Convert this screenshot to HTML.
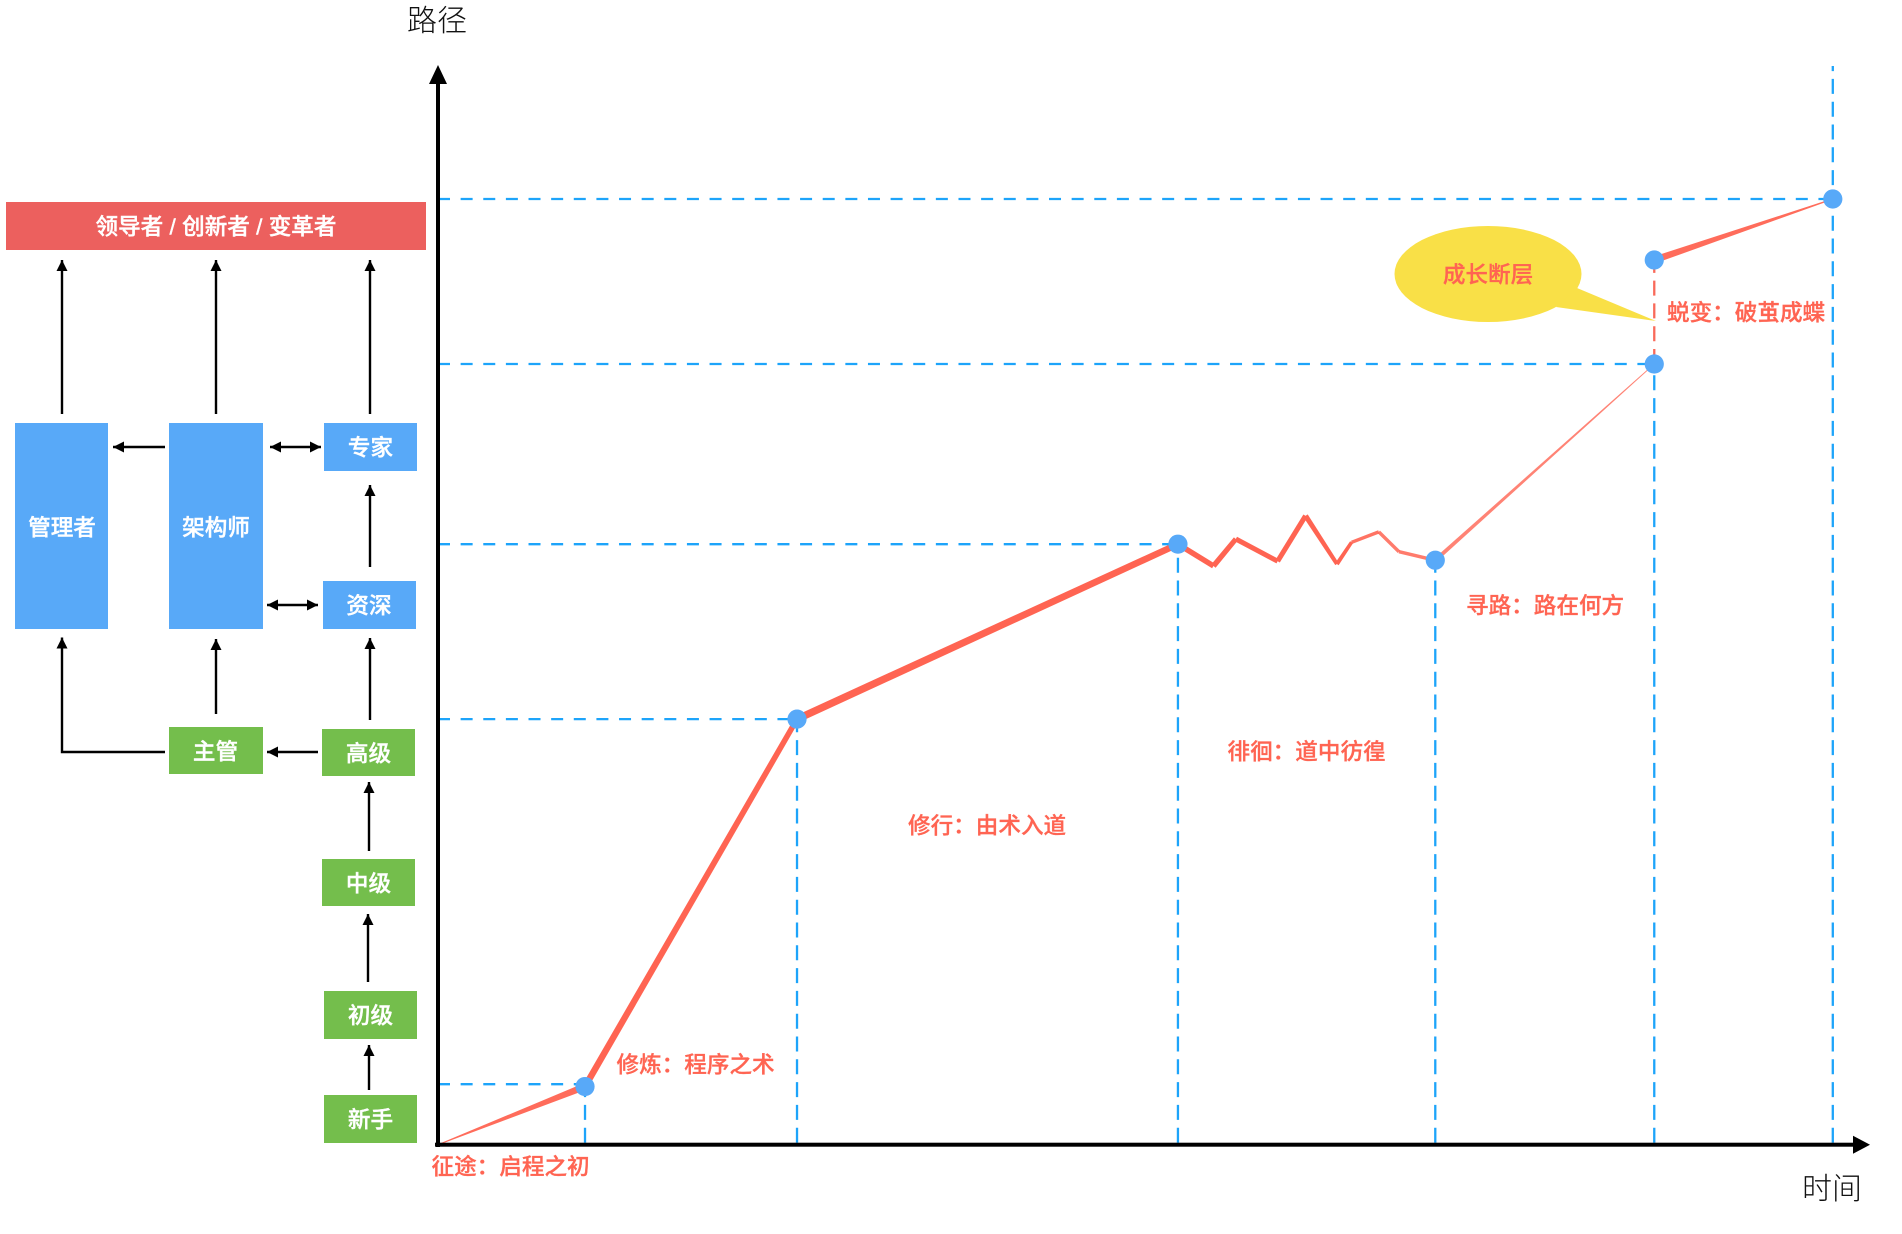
<!DOCTYPE html>
<html lang="zh">
<head>
<meta charset="utf-8">
<title>成长路径</title>
<style>
html,body{margin:0;padding:0;background:#fff;}
body{width:1902px;height:1234px;overflow:hidden;}
svg{display:block;}
text{font-family:"Liberation Sans","Noto Sans CJK SC",sans-serif;}
.box-label{fill:#fff;stroke:#fff;stroke-width:0.4;font-size:22.6px;font-weight:500;text-anchor:middle;dominant-baseline:central;}
.stage{fill:#FF6452;stroke:#FF6452;stroke-width:0.3;font-size:22.6px;font-weight:500;dominant-baseline:central;}
.axis-title{fill:#111;font-size:30px;font-weight:300;text-anchor:middle;dominant-baseline:central;}
.flow{stroke:#000;stroke-width:2.4;fill:none;}
</style>
</head>
<body>
<svg id="chart" xmlns="http://www.w3.org/2000/svg" width="1902" height="1234" viewBox="0 0 1902 1234">
  <defs>
    <marker id="head" viewBox="0 0 11 11" refX="11" refY="5.5" markerWidth="11" markerHeight="11" markerUnits="userSpaceOnUse" orient="auto-start-reverse">
      <path d="M0 0 L11 5.5 L0 11 Z" fill="#000"/>
    </marker>
  </defs>

  <g id="career-flow">
    <rect x="6" y="202" width="420" height="48" fill="#EC605E"/>
    <text class="box-label" x="216" y="227">领导者 / 创新者 / 变革者</text>

    <rect x="15" y="423" width="93" height="206" fill="#58A9F8"/>
    <text class="box-label" x="62" y="528">管理者</text>
    <rect x="169" y="423" width="94" height="206" fill="#58A9F8"/>
    <text class="box-label" x="216" y="528">架构师</text>
    <rect x="324" y="423" width="93" height="48" fill="#58A9F8"/>
    <text class="box-label" x="370.500" y="448">专家</text>
    <rect x="323" y="581" width="93" height="48" fill="#58A9F8"/>
    <text class="box-label" x="369" y="606">资深</text>

    <rect x="169" y="727" width="94" height="47" fill="#74BE4C"/>
    <text class="box-label" x="215.500" y="752">主管</text>
    <rect x="322" y="729" width="93" height="47" fill="#74BE4C"/>
    <text class="box-label" x="368.500" y="754">高级</text>
    <rect x="322" y="859" width="93" height="47" fill="#74BE4C"/>
    <text class="box-label" x="368.500" y="884">中级</text>
    <rect x="324" y="991" width="93" height="48" fill="#74BE4C"/>
    <text class="box-label" x="370.500" y="1016">初级</text>
    <rect x="324" y="1095" width="93" height="48" fill="#74BE4C"/>
    <text class="box-label" x="370.500" y="1120">新手</text>

    <path class="flow" d="M62 414V260" marker-end="url(#head)"/>
    <path class="flow" d="M216 414V260" marker-end="url(#head)"/>
    <path class="flow" d="M370 414V260" marker-end="url(#head)"/>
    <path class="flow" d="M165 447H113" marker-end="url(#head)"/>
    <path class="flow" d="M270 447H321" marker-start="url(#head)" marker-end="url(#head)"/>
    <path class="flow" d="M370 567V485" marker-end="url(#head)"/>
    <path class="flow" d="M267 605H318" marker-start="url(#head)" marker-end="url(#head)"/>
    <path class="flow" d="M165 752H62V637.500" marker-end="url(#head)"/>
    <path class="flow" d="M216 714V639" marker-end="url(#head)"/>
    <path class="flow" d="M370 720V638" marker-end="url(#head)"/>
    <path class="flow" d="M318 752H267" marker-end="url(#head)"/>
    <path class="flow" d="M369 851V782" marker-end="url(#head)"/>
    <path class="flow" d="M368 982V914" marker-end="url(#head)"/>
    <path class="flow" d="M369 1090V1045" marker-end="url(#head)"/>
  </g>

  <g id="guides"></g>
  <g id="series"></g>

  <g>
    <rect x="436" y="80" width="4" height="1067" fill="#000"/>
    <path d="M438 65 L447 84 L429 84 Z" fill="#000"/>
    <rect x="435" y="1142.700" width="1420" height="4" fill="#000"/>
    <path d="M1870 1144.700 L1853 1135.700 L1853 1153.700 Z" fill="#000"/>
    <text class="axis-title" x="437" y="21.500">路径</text>
    <text class="axis-title" x="1832" y="1189.500">时间</text>
  </g>

  <g id="dots"></g>

  <g>
    <ellipse cx="1488" cy="274" rx="93.500" ry="48" fill="#F9E047"/>
    <path d="M1577 288 L1656 321 L1556 307 Z" fill="#F9E047"/>
    <text class="stage" x="1488" y="275" text-anchor="middle">成长断层</text>
  </g>

  <g>
    <text class="stage" x="431.500" y="1167">征途：启程之初</text>
    <text class="stage" x="616.500" y="1065">修炼：程序之术</text>
    <text class="stage" x="908" y="826">修行：由术入道</text>
    <text class="stage" x="1227.500" y="752">徘徊：道中彷徨</text>
    <text class="stage" x="1466" y="606">寻路：路在何方</text>
    <text class="stage" x="1667" y="313">蜕变：破茧成蝶</text>
  </g>
</svg>

<script>
// Chart data: time and path are on a 0-100 scale.
const growthTime = [0, 10.54, 25.74, 53.05, 55.6, 57.2, 60.2, 62.2, 64.45, 65.5, 67.45, 68.9, 71.5, 87.2];
const growthPath = [0, 6.15, 45.0, 63.5, 61.2, 64.05, 61.7, 66.5, 61.4, 63.7, 64.8, 62.7, 61.8, 82.55];
const leapTime = [87.2, 100];
const leapPath = [93.55, 100];
const milestoneTime = [10.54, 25.74, 53.05, 71.5, 87.2, 87.2, 100];
const milestonePath = [6.15, 45.0, 63.5, 61.8, 82.55, 93.55, 100];
const levelPath = [6.4, 45.0, 63.5, 82.55, 100];

const NS = 'http://www.w3.org/2000/svg';
const xScale = function (t) { return 438 + t * 13.948; };
const yScale = function (p) { return 1144.7 - p * 9.457; };

function taper(parent, x1, y1, x2, y2, w1, w2, opacity) {
  const dx = x2 - x1, dy = y2 - y1, len = Math.hypot(dx, dy) || 1;
  const nx = -dy / len, ny = dx / len;
  const poly = document.createElementNS(NS, 'polygon');
  
  
  const pts = [
    [x1 + nx * w1 / 2, y1 + ny * w1 / 2],
    [x2 + nx * w2 / 2, y2 + ny * w2 / 2],
    [x2 - nx * w2 / 2, y2 - ny * w2 / 2],
    [x1 - nx * w1 / 2, y1 - ny * w1 / 2]
  ];
  poly.setAttribute('points', pts.map(function (q) { return q[0].toFixed(1) + ',' + q[1].toFixed(1); }).join(' '));
  poly.setAttribute('fill', '#FF6452');
  poly.setAttribute('fill-opacity', opacity);
  parent.appendChild(poly);
}

function guide(parent, x1, y1, x2, y2, color, dash, name) {
  const line = document.createElementNS(NS, 'line');
  
  
  line.setAttribute('x1', x1);
  line.setAttribute('y1', y1);
  line.setAttribute('x2', x2);
  line.setAttribute('y2', y2);
  line.setAttribute('stroke', color);
  line.setAttribute('stroke-width', '2.3');
  line.setAttribute('stroke-dasharray', dash);
  parent.appendChild(line);
}

function draw() {
  const guides = document.getElementById('guides');
  const series = document.getElementById('series');
  const dots = document.getElementById('dots');
  const axisX = xScale(0), axisY = yScale(0);

  levelPath.forEach(function (p, i) {
    const idx = milestonePath.indexOf(p);
    const endX = idx >= 0 ? xScale(milestoneTime[idx]) : xScale(milestoneTime[0]);
    guide(guides, axisX, yScale(p), endX, yScale(p), '#1DA4FA', '12 10.63', 'horizontal-guide');
  });

  const seen = [];
  milestoneTime.forEach(function (t, i) {
    if (seen.indexOf(t) >= 0) return;
    seen.push(t);
    const top = t === 100 ? 66 : yScale(milestonePath[i]);
    guide(guides, xScale(t), axisY - 2, xScale(t), top, '#1DA4FA', '15 7.8', 'vertical-guide');
  });

  guide(guides, xScale(leapTime[0]), yScale(milestonePath[4]), xScale(leapTime[0]), yScale(leapPath[0]), '#F96A5A', '15 7.8', 'growth-gap-guide');

  const startWidths = [0.8, 6.5, 7.5, 5.5, 5.5, 5, 5, 5, 4, 3.5, 3.5, 3.5, 4];
  const endWidths = [7, 5.5, 6.5, 5.5, 5, 5, 5, 4, 3.5, 3.5, 3.5, 3.5, 0.8];
  const opacities = [0.95, 1, 1, 1, 1, 1, 1, 1, 1, 0.9, 0.85, 0.85, 0.8];
  for (let i = 0; i < growthTime.length - 1; i++) {
    taper(series, xScale(growthTime[i]), yScale(growthPath[i]), xScale(growthTime[i + 1]), yScale(growthPath[i + 1]), startWidths[i], endWidths[i], opacities[i]);
  }
  for (let i = 0; i < leapTime.length - 1; i++) {
    taper(series, xScale(leapTime[i]), yScale(leapPath[i]), xScale(leapTime[i + 1]), yScale(leapPath[i + 1]), 7, 1, 0.95);
  }

  milestoneTime.forEach(function (t, i) {
    const c = document.createElementNS(NS, 'circle');
    
    
    c.setAttribute('cx', xScale(t));
    c.setAttribute('cy', yScale(milestonePath[i]));
    c.setAttribute('r', '9.6');
    c.setAttribute('fill', '#58A9F8');
    dots.appendChild(c);
  });
}
draw();
</script>
</body>
</html>
